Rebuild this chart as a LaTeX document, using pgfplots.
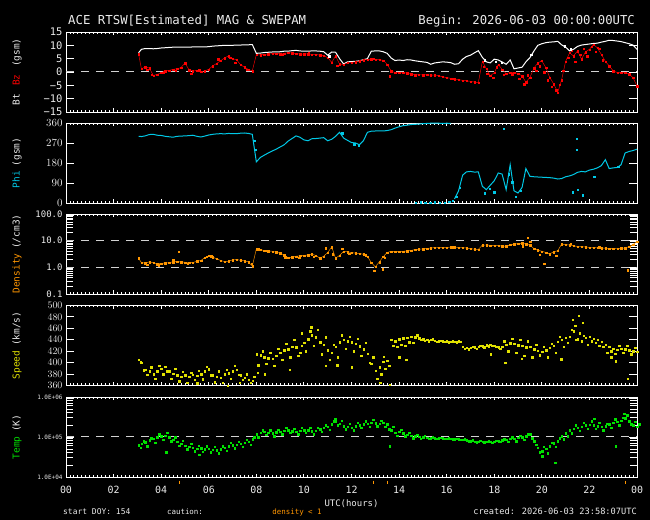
\documentclass[border=0pt]{standalone}
\usepackage{fontspec}
\setmainfont{DejaVu Sans Mono}
\usepackage{pgfplots}
\usepackage{pgfplotstable}
\pgfplotsset{compat=1.18}
\definecolor{txt}{RGB}{235,235,235}
\definecolor{bzred}{RGB}{255,0,0}
\definecolor{phicyan}{RGB}{0,200,230}
\definecolor{densor}{RGB}{255,150,0}
\definecolor{spdyel}{RGB}{225,225,0}
\definecolor{tmpgrn}{RGB}{0,225,0}
\definecolor{dashg}{RGB}{210,210,210}

\pgfplotstableread{
t bt bz phi dens spd spd2 tmp tmp2
3.05 7.2 6.8 300 2.2 405 401 6.3e4 5.5e4
3.17 8.5 1.2 299 1.5 400 387 6.9e4 8.0e4
3.33 8.8 1.9 302 1.45 388 379 7.5e4 6.0e4
3.50 8.8 1.5 308 1.6 385 392 8.3e4 9.5e4
3.67 8.7 -1.3 309 1.5 380 372 9.0e4 7.2e4
3.83 8.8 -0.9 305 1.35 385 395 1.0e5 1.2e5
4.00 9.0 -0.3 304 1.4 390 380 1.05e5 8.5e4
4.17 9.1 0.4 300 1.45 393 385 1.1e5 1.3e5
4.33 9.2 0.6 298 1.5 385 372 1.0e5 8.0e4
4.50 9.3 1.0 296 1.6 381 390 8.5e4 1.0e5
4.67 9.3 1.2 300 1.65 378 368 7.8e4 6.2e4
4.83 9.3 1.6 301 1.6 376 384 6.9e4 8.2e4
5.00 9.3 3.4 302 1.55 378 365 6.2e4 5.0e4
5.17 9.3 0.8 303 1.5 376 383 5.7e4 6.8e4
5.33 9.4 0.3 305 1.5 379 370 5.4e4 4.4e4
5.50 9.4 0.6 300 1.7 377 386 5.2e4 6.2e4
5.67 9.4 0.1 297 1.8 380 371 5.3e4 4.3e4
5.83 9.4 0.4 301 2.3 385 393 5.0e4 6.0e4
6.00 9.5 1.0 306 2.7 389 378 5.2e4 4.2e4
6.17 9.7 2.3 309 2.4 378 366 4.8e4 5.8e4
6.33 9.8 3.2 311 2.1 376 385 4.7e4 4.0e4
6.50 9.9 4.2 312 1.8 374 365 5.0e4 6.0e4
6.67 10.0 5.3 311 1.65 380 388 5.5e4 4.6e4
6.83 10.0 6.0 313 1.7 382 372 6.0e4 7.2e4
7.00 10.0 5.0 312 1.9 385 395 6.3e4 5.3e4
7.17 10.1 4.6 312 1.95 388 379 6.5e4 7.8e4
7.33 10.1 2.8 314 1.85 378 370 6.9e4 5.8e4
7.50 10.2 1.8 315 1.75 374 380 7.2e4 8.6e4
7.67 10.2 0.9 313 1.6 370 365 7.6e4 6.4e4
7.83 10.3 0.4 309 1.1 369 376 8.8e4 1.0e5
8.00 7.0 6.5 185 4.9 415 396 1.2e5 1.0e5
8.17 7.1 6.4 205 4.6 413 420 1.3e5 1.5e5
8.33 7.3 6.6 215 4.3 410 398 1.35e5 1.15e5
8.50 7.4 6.7 225 4.1 408 418 1.3e5 1.5e5
8.67 7.5 6.9 234 4.0 407 395 1.25e5 1.05e5
8.83 7.5 7.0 242 3.7 412 425 1.32e5 1.55e5
9.00 7.6 6.8 252 3.4 418 405 1.38e5 1.2e5
9.17 7.8 7.0 262 2.9 422 433 1.45e5 1.7e5
9.33 7.8 7.2 278 2.3 424 410 1.5e5 1.3e5
9.50 8.0 7.1 290 2.4 428 440 1.42e5 1.65e5
9.67 8.1 6.9 302 2.6 427 412 1.38e5 1.2e5
9.83 7.9 6.8 296 2.7 418 430 1.45e5 1.7e5
10.00 7.8 6.7 284 2.8 435 420 1.5e5 1.3e5
10.17 7.8 6.8 280 2.9 441 455 1.48e5 1.75e5
10.33 7.9 6.6 289 3.1 448 430 1.42e5 1.2e5
10.50 7.9 6.6 290 2.8 445 458 1.45e5 1.7e5
10.67 7.8 6.3 292 2.2 436 415 1.6e5 1.35e5
10.83 7.6 6.1 294 2.6 432 445 1.7e5 2.0e5
11.00 6.3 5.4 280 3.6 422 405 1.85e5 1.55e5
11.17 7.5 3.6 287 5.8 418 432 2.1e5 2.5e5
11.33 7.4 6.0 300 2.2 428 410 2.5e5 2.0e5
11.50 5.0 3.0 318 2.8 436 448 2.2e5 2.6e5
11.67 3.0 2.8 292 4.0 440 425 1.9e5 1.6e5
11.83 3.8 3.5 282 3.8 438 446 1.8e5 2.15e5
12.00 3.9 3.6 272 3.6 436 420 1.75e5 1.5e5
12.17 4.0 3.8 270 3.4 433 442 1.9e5 2.3e5
12.33 4.2 4.1 262 3.3 429 412 2.0e5 1.7e5
12.50 4.6 4.5 280 3.1 424 435 2.1e5 2.5e5
12.67 5.0 4.7 318 2.6 416 400 2.2e5 1.85e5
12.83 7.8 4.8 323 1.5 398 410 2.3e5 2.7e5
13.00 7.9 4.7 324 1.05 386 372 2.25e5 1.9e5
13.17 7.9 4.6 324 1.6 392 380 2.2e5 2.6e5
13.33 7.6 4.4 324 2.5 402 390 2.3e5 1.8e5
13.50 7.0 2.9 326 3.6 404 395 2.1e5 1.6e5
13.67 5.2 0.3 330 4.0 440 430 1.5e5 1.8e5
13.83 4.3 -0.2 337 3.9 438 428 1.3e5 1.1e5
14.00 4.5 -0.3 343 3.9 441 432 1.35e5 1.55e5
14.17 4.3 -0.2 348 4.0 443 430 1.25e5 1.05e5
14.33 4.6 -0.4 350 4.1 444 436 1.15e5 1.3e5
14.50 4.5 -0.8 353 4.3 446 435 1.1e5 9.5e4
14.67 4.2 -1.1 354 4.6 445 448 1.05e5 1.15e5
14.83 4.0 -1.0 355 4.8 443 440 1.02e5 9.2e4
15.00 3.8 -1.1 357 4.9 441 439 1.0e5 1.08e5
15.17 3.6 -1.0 358 5.1 440 438 9.7e4 9.2e4
15.33 2.9 -1.2 359 5.3 440 441 9.5e4 1.0e5
15.50 3.4 -1.1 359 5.5 439 437 9.4e4 9.0e4
15.67 3.6 -1.4 359 5.6 438 439 9.4e4 9.8e4
15.83 3.8 -1.8 358 5.6 438 437 9.3e4 9.0e4
16.00 3.7 -2.1 359 5.6 438 436 9.2e4 9.5e4
16.17 3.5 -2.4 358 5.7 437 438 9.0e4 8.7e4
16.25 3.2 -2.5 nan 5.7 437 437 8.9e4 9.0e4
16.33 2.9 -2.6 18 5.7 437 436 8.9e4 9.2e4
16.50 3.1 -2.9 55 5.6 438 437 8.8e4 8.5e4
16.67 4.8 -3.1 125 5.5 428 425 8.6e4 8.9e4
16.83 5.8 -3.3 140 5.3 426 424 8.3e4 8.0e4
17.00 6.3 -3.5 142 5.0 426 428 8.0e4 8.3e4
17.17 7.2 -3.8 139 4.8 427 425 7.8e4 7.5e4
17.33 8.0 -4.0 140 4.7 428 430 7.8e4 8.1e4
17.50 5.5 4.0 75 6.8 429 427 7.7e4 7.4e4
17.67 3.8 1.2 60 6.9 431 429 7.6e4 7.9e4
17.83 3.4 -1.4 80 6.7 432 430 7.6e4 7.3e4
18.00 4.8 -0.3 100 6.6 430 428 7.8e4 8.2e4
18.17 4.5 2.8 135 6.5 427 425 8.0e4 7.6e4
18.33 3.8 1.0 130 6.3 428 438 8.3e4 8.8e4
18.50 2.9 -0.6 60 6.2 432 420 8.6e4 7.6e4
18.67 4.5 -0.2 172 7.0 434 442 9.0e4 1.0e5
18.83 1.2 -0.3 55 7.4 433 418 9.2e4 8.0e4
19.00 1.5 -0.5 45 7.8 431 440 9.6e4 1.1e5
19.17 1.8 -1.5 70 8.0 430 412 1.0e5 8.5e4
19.33 3.8 -3.8 155 7.5 427 438 1.05e5 1.2e5
19.50 5.4 -2.0 120 6.8 428 410 1.2e5 9.5e4
19.67 7.9 1.5 118 5.0 424 432 8.0e4 6.5e4
19.83 10.0 3.4 117 4.4 421 413 5.5e4 4.2e4
20.00 10.6 4.2 116 4.0 419 428 4.5e4 5.8e4
20.17 11.0 1.6 115 3.6 422 410 5.2e4 4.0e4
20.33 11.2 -2.0 114 3.2 426 433 6.0e4 7.2e4
20.50 11.3 -4.5 112 3.8 430 418 7.0e4 5.8e4
20.67 11.5 -7.6 108 4.2 437 446 8.0e4 9.5e4
20.83 10.2 -3.0 110 7.4 440 428 1.05e5 8.8e4
21.00 9.3 4.0 118 7.2 444 435 1.25e5 1.05e5
21.17 7.9 7.2 122 6.8 446 458 1.5e5 1.25e5
21.33 8.5 6.0 128 6.4 455 440 1.65e5 2.0e5
21.50 9.6 7.9 138 6.1 441 452 1.75e5 1.45e5
21.67 10.1 4.8 142 6.0 438 447 1.85e5 2.3e5
21.83 10.3 7.5 140 5.8 444 432 2.0e5 1.65e5
22.00 10.5 8.5 148 5.6 446 438 2.05e5 2.5e5
22.17 10.7 10.3 152 5.5 442 435 2.0e5 1.65e5
22.33 10.8 9.1 158 5.4 440 430 1.9e5 2.3e5
22.50 11.2 6.6 168 5.3 437 428 1.8e5 1.5e5
22.67 11.5 4.0 195 5.2 432 418 1.9e5 2.2e5
22.83 11.9 2.3 155 5.0 428 420 2.1e5 1.75e5
23.00 11.8 0.4 158 5.0 425 416 2.3e5 2.8e5
23.17 11.6 -0.2 160 5.1 423 430 2.4e5 2.0e5
23.33 11.4 -0.3 172 5.2 425 418 2.6e5 3.1e5
23.50 11.0 -0.2 225 5.3 424 430 3.0e5 3.5e5
23.67 10.6 -0.8 232 6.0 422 415 2.5e5 2.1e5
23.83 10.1 -2.1 236 7.2 420 426 2.0e5 2.4e5
24.00 8.5 -5.2 242 9.3 419 423 1.8e5 2.1e5
}\ace

\pgfplotsset{
  panel/.style={
    width=571bp, height=80bp, scale only axis,
    anchor=north west,
    xmin=0, xmax=24,
    axis line style={draw=white, line width=0.9bp},
    tick style={white, line width=0.9bp},
    tick align=inside,
    xtick={0,2,...,24}, xticklabels={},
    minor x tick num=11,
    xtick pos=both, ytick pos=both,
    ticklabel pos=left,
    major tick length=8bp, minor tick length=7bp,
    major x tick style={/pgfplots/major tick length=3.5bp},
    minor x tick style={/pgfplots/minor tick length=2bp},
    ticklabel style={text=txt},
    ylabel style={at={(axis description cs:-0.0858,0.5)}, anchor=center, text=txt,
      font=\fontsize{9.5}{9.5}\selectfont},
    unbounded coords=jump,
  },
  dots/.style={only marks, color=#1, mark=square*, mark size=0.72bp, mark options={line width=0.1bp}},
  trail/.style={color=#1, line width=0.45bp, mark=square*, mark size=0.7bp, mark options={line width=0.1bp}},
  refline/.style={dashg, line width=1bp, dash pattern=on 8bp off 7bp, forget plot},
}

\begin{document}
\begin{tikzpicture}
\fill[black] (0,0) rectangle (650bp,520bp);
\path[use as bounding box] (0,0) rectangle (650bp,520bp);

\node[anchor=base west, text=txt, font=\fontsize{12.4}{12.4}\selectfont, inner sep=0] at (68bp,495bp) {ACE RTSW[Estimated] MAG \& SWEPAM};
\node[anchor=base east, text=txt, font=\fontsize{12.3}{12.3}\selectfont, inner sep=0] at (635bp,495bp) {Begin: 2026-06-03 00:00:00UTC};

% Panel 1: Bt, Bz
\begin{axis}[panel, at={(66bp,488bp)},
  ymin=-15, ymax=15, ytick={-15,-10,-5,0,5,10,15},
  yticklabels={−15,−10,−5,0,5,10,15},
  yticklabel style={font=\fontsize{10.5}{10.5}\selectfont},
  ylabel={Bt\hspace{0.9em}{\color{bzred}Bz}\hspace{0.8em}(gsm)}]
\addplot[refline] coordinates {(0,0) (24,0)};
\addplot[draw=white, line width=1bp] table[x=t,y=bt]{\ace};
\addplot[trail=bzred] table[x=t,y=bz]{\ace};
\addplot[dots=bzred] coordinates {(17.55,2.0) (17.7,-0.5) (17.95,-2.0) (18.1,1.8) (18.4,-1.0) (18.75,-0.8) (19.05,-2.5) (19.25,-4.5) (19.4,-1.2) (19.75,0.5) (19.9,2.2) (20.1,0.0) (20.25,-3.0) (20.4,-5.5) (20.6,-6.8) (20.75,-4.8) (20.9,0.5) (21.1,5.5) (21.25,8.0) (21.4,4.0) (21.6,6.5) (21.75,8.8) (21.9,6.0) (22.1,9.5) (22.25,7.6) (22.4,8.8) (22.55,4.5) (3.4,1.0) (3.6,-1.0) (4.1,0.0) (4.6,0.5) (5.25,-0.5) (5.6,0.8) (6.4,4.8) (6.9,5.5) (7.1,3.5) (7.6,1.0) (11.4,2.4) (12.9,5.0) (13.6,-1.5) (9.1,6.5) (10.2,7.2)};
\addplot[dots=white] coordinates {(11.05,6.0) (19.55,6.5) (20.95,9.8) (18.05,4.0) (18.3,3.5) (17.6,4.5) (21.2,8.6)};
\end{axis}

% Panel 2: Phi
\begin{axis}[panel, at={(66bp,397bp)},
  ymin=0, ymax=360, ytick={0,90,180,270,360},
  yticklabel style={font=\fontsize{10.5}{10.5}\selectfont},
  ylabel={{\color{phicyan}Phi}\hspace{0.5em}(gsm)}]
\addplot[draw=phicyan, line width=1bp] table[x=t,y=phi]{\ace};
\addplot[dots=phicyan] coordinates {(14.7,2) (14.9,5) (15.1,1) (15.3,3) (15.5,4) (15.7,2) (15.9,3) (16.1,6) (16.25,10) (16.4,30) (16.55,70) (17.6,45) (17.8,65) (18.0,50) (18.4,334) (18.6,130) (18.75,95) (18.9,30) (19.1,55) (21.45,289) (21.45,240) (21.5,60) (21.7,35) (21.3,50) (23.2,165) (22.2,120) (12.3,258) (11.6,315) (12.1,265) (7.9,282) (7.95,240)};
\end{axis}

% Panel 3: Density
\begin{axis}[panel, at={(66bp,306bp)},
  ymode=log, ymin=0.1, ymax=100, ytick={0.1,1,10,100},
  yticklabels={0.1,1.0,10.0,100.0},
  minor ytick={0.2,0.3,0.4,0.5,0.6,0.7,0.8,0.9,2,3,4,5,6,7,8,9,20,30,40,50,60,70,80,90},
  yticklabel style={font=\fontsize{9}{9}\selectfont},
  ylabel={{\color{densor}Density}\hspace{0.5em}(/cm3)}]
\addplot[refline] coordinates {(0,1) (24,1)};
\addplot[refline] coordinates {(0,10) (24,10)};
\addplot[trail=densor] table[x=t,y=dens]{\ace};
\addplot[dots=densor] coordinates {(3.4,1.3) (3.9,1.2) (4.5,1.9) (4.72,3.9) (5.1,1.4) (5.9,2.5) (6.1,2.6) (7.8,1.4) (8.1,4.8) (8.4,4.2) (9.2,2.4) (9.8,2.3) (10.4,2.5) (10.9,5.2) (11.2,3.2) (11.6,5.0) (11.9,3.3) (12.6,2.9) (12.95,0.75) (13.3,0.85) (13.4,2.3) (19.4,13.0) (19.5,9.2) (19.2,6.4) (19.9,3.0) (20.1,1.4) (20.6,2.8) (23.6,0.8) (22.4,5.8) (21.2,7.8)};
\end{axis}

% Panel 4: Speed
\begin{axis}[panel, at={(66bp,214.5bp)},
  ymin=360, ymax=500, ytick={360,380,400,420,440,460,480,500},
  yticklabel style={font=\fontsize{10}{10}\selectfont},
  ylabel={{\color{spdyel}Speed}\hspace{0.5em}(km/s)}]
\addplot[dots=spdyel] table[x=t,y=spd]{\ace};
\addplot[dots=spdyel] table[x expr=\thisrow{t}+0.08,y=spd2]{\ace};
\addplot[dots=spdyel] coordinates {(21.3,475) (21.55,482) (21.7,470) (21.4,465) (10.3,462) (9.9,452) (8.05,383) (8.35,380) (11.4,396) (14.0,410) (14.3,405) (18.45,400) (19.15,407) (20.8,406) (23.1,403) (23.6,372) (13.2,365) (13.6,362) (7.3,365) (5.5,364) (9.4,388) (10.9,395) (12.0,392) (17.85,415) (22.9,410) (6.8,360) (13.35,411)};
\end{axis}

% Panel 5: Temp
\begin{axis}[panel, at={(66bp,123bp)}, clip=false,
  ymode=log, ymin=1e4, ymax=1e6, ytick={1e4,1e5,1e6},
  yticklabels={1.0E+04,1.0E+05,1.0E+06},
  minor ytick={2e4,3e4,4e4,5e4,6e4,7e4,8e4,9e4,2e5,3e5,4e5,5e5,6e5,7e5,8e5,9e5},
  yticklabel style={font=\fontsize{6}{6}\selectfont},
  xticklabels={00,02,04,06,08,10,12,14,16,18,20,22,00},
  xticklabel style={font=\fontsize{10}{10}\selectfont, yshift=-5.5bp},
  xlabel={UTC(hours)},
  xlabel style={at={(axis description cs:0.5,0)}, anchor=base, yshift=-30bp,
    text=txt, font=\fontsize{9}{9}\selectfont},
  ylabel={{\color{tmpgrn}Temp}\hspace{0.5em}(K)}]
\addplot[refline] coordinates {(0,1e5) (24,1e5)};
\addplot[dots=tmpgrn] table[x=t,y=tmp]{\ace};
\addplot[dots=tmpgrn] table[x expr=\thisrow{t}+0.08,y=tmp2]{\ace};
\addplot[dots=tmpgrn] coordinates {(4.2,4.2e4) (5.6,3.6e4) (13.6,6.0e4) (20.55,2.3e4) (20.0,3.3e4) (23.1,6.0e4) (11.3,2.9e5) (22.2,2.9e5) (23.45,3.8e5)};
\addplot[only marks, mark=|, mark size=1.5bp, mark options={densor, line width=0.8bp}] coordinates {(4.76,7.4e3) (12.9,7.4e3) (13.5,7.4e3) (23.5,7.4e3)};
\end{axis}

\node[anchor=base west, text=txt, font=\fontsize{8}{8}\selectfont, inner sep=0] at (63bp,6bp) {start DOY: 154};
\node[anchor=base, text=txt, font=\fontsize{7.5}{7.5}\selectfont, inner sep=0] at (185bp,6bp) {caution:};
\node[anchor=base, text=densor, font=\fontsize{7.5}{7.5}\selectfont, inner sep=0] at (297bp,6bp) {density < 1};
\node[anchor=base east, text=txt, font=\fontsize{8.7}{8.7}\selectfont, inner sep=0] at (637bp,6bp) {created: 2026-06-03 23:58:07UTC};
\end{tikzpicture}
\end{document}
